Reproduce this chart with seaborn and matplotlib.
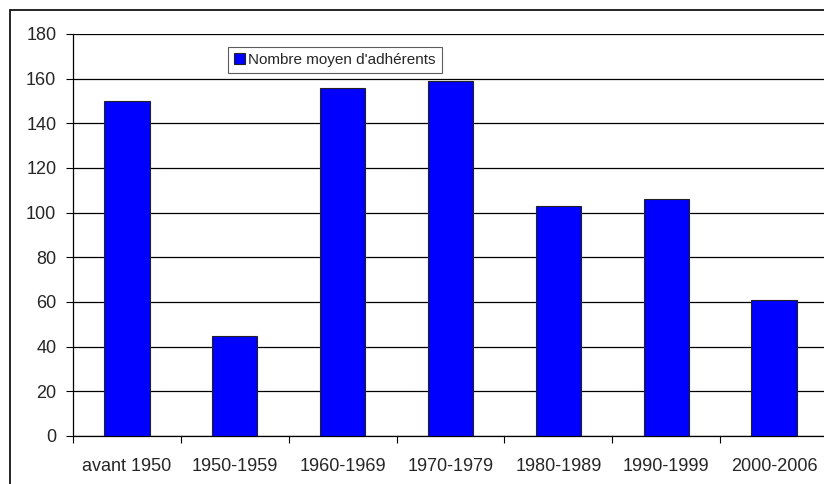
import pandas as pd
import matplotlib.pyplot as plt
import seaborn as sns
from matplotlib.patches import Rectangle

# Data
periods = ['avant 1950', '1950-1959', '1960-1969', '1970-1979',
           '1980-1989', '1990-1999', '2000-2006']
members = [150, 45, 156, 159, 103, 106, 61]
y_ticks = [0, 20, 40, 60, 80, 100, 120, 140, 160, 180]

df = pd.DataFrame({'periode': periods, 'adherents': members})

sns.set_style('white')
plt.rcParams['font.family'] = ['Liberation Sans', 'DejaVu Sans']

fig = plt.figure(figsize=(8.24, 4.84), dpi=100)
# outer chart frame (cropped on right/bottom like the original)
fig.patches.append(Rectangle((10 / 824, -0.1), 1.0, (484 - 10) / 484 + 0.1,
                             transform=fig.transFigure, fill=False,
                             edgecolor='black', linewidth=1.2))

ax = fig.add_axes([73 / 824, 48 / 484, (828 - 73) / 824, 402 / 484])
sns.barplot(data=df, x='periode', y='adherents', color='#0000FF',
            saturation=1, width=0.42, edgecolor='#222222', linewidth=0.8,
            label="Nombre moyen d'adhérents", ax=ax, zorder=3)

ax.set_ylim(0, 180)
ax.set_xlim(-0.5, 6.5)
ax.set_yticks(y_ticks)
ax.yaxis.grid(True, color='black', linewidth=0.9)
ax.set_axisbelow(True)
ax.set_xlabel('')
ax.set_ylabel('')

# x ticks as category separators
ax.set_xticks(range(len(periods)))
ax.set_xticklabels(periods)
ax.set_xticks([i - 0.5 for i in range(len(periods) + 1)], minor=True)
ax.tick_params(axis='x', which='major', length=0, pad=16, labelsize=13)
ax.tick_params(axis='x', which='minor', length=5, width=0.8, color='black',
               direction='out', bottom=True)
ax.tick_params(axis='y', length=5, width=0.8, color='black', direction='out',
               left=True, labelsize=13, pad=7)

for side in ['top', 'right']:
    ax.spines[side].set_visible(False)
for side in ['left', 'bottom']:
    ax.spines[side].set_color('black')
    ax.spines[side].set_linewidth(0.9)

leg = ax.legend(loc='upper left', bbox_to_anchor=(228 / 824, 1 - 47 / 484),
                bbox_transform=fig.transFigure, fontsize=11, frameon=True,
                fancybox=False, shadow=False, handlelength=0.75,
                handleheight=0.75, handletextpad=0.2, borderpad=0.38,
                borderaxespad=0)
leg.get_frame().set_edgecolor('#333333')
leg.get_frame().set_linewidth(0.8)

fig.savefig('out.png', dpi=100)
plt.close(fig)
